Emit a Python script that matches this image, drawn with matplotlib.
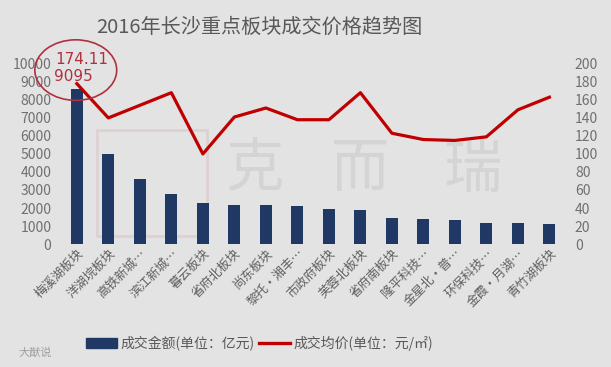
import numpy as np
import matplotlib.pyplot as plt
from matplotlib.patches import Ellipse, Rectangle
from matplotlib.lines import Line2D
from matplotlib.patches import Patch

plt.rcParams['font.family'] = ['Noto Sans CJK SC', 'DejaVu Sans']

areas = ['梅溪湖板块', '洋湖垸板块', '高铁新城…', '滨江新城…', '暮云板块', '省府北板块',
         '尚东板块', '黎托·湘丰…', '市政府板块', '芙蓉北板块', '省府南板块', '隆平科技…',
         '金星北·普…', '环保科技…', '金霞·月湖…', '青竹湖板块']
amount = [8600, 5000, 3600, 2800, 2260, 2170, 2170, 2110, 1960, 1870,
          1460, 1390, 1315, 1190, 1185, 1110]
price = [178, 140, 154, 168, 100, 141, 151, 138, 138, 168,
         123, 116, 115, 119, 149, 163]

bar_color = '#1f3864'
line_color = '#c00000'
gray = '#707070'
bg = '#e3e3e3'

fig = plt.figure(figsize=(6.11, 3.67), dpi=100, facecolor=bg)

# faint watermark behind the plot
fig.patches.append(Rectangle((97 / 611, 1 - 236 / 367), 110 / 611, 106 / 367,
                             transform=fig.transFigure, fill=False,
                             edgecolor='#ddd2d2', lw=2, zorder=-2))
for cx, ch in zip([255, 360, 473], ['克', '而', '瑞']):
    fig.text(cx / 611, 1 - 170 / 367, ch, fontsize=42, color='#d4d4d4',
             ha='center', va='center', zorder=-2)

ax = fig.add_axes([0.1, 0.335, 0.825, 0.491])
ax.patch.set_visible(False)
x = np.arange(len(areas))
ax.bar(x, amount, width=0.38, color=bar_color, zorder=2)
ax.set_ylim(0, 10000)
ax.set_xlim(-0.5, len(areas) - 0.5)
ax.set_yticks(range(0, 10001, 1000))
ax.tick_params(axis='y', colors=gray, labelsize=10, length=0, pad=7)
ax.tick_params(axis='x', length=0, pad=2)
ax.set_xticks(x)
ax.set_xticklabels(areas, rotation=45, ha='right', va='top', rotation_mode='anchor',
                   fontsize=9, color='#606060')
for s in ax.spines.values():
    s.set_visible(False)

ax2 = ax.twinx()
ax2.plot(x, price, color=line_color, lw=2.3, zorder=3)
ax2.set_ylim(0, 200)
ax2.set_yticks(range(0, 201, 20))
ax2.tick_params(axis='y', colors=gray, labelsize=10, length=0, pad=7)
for s in ax2.spines.values():
    s.set_visible(False)

fig.text(0.425, 0.926, '2016年长沙重点板块成交价格趋势图', fontsize=14.5, color='#595959',
         ha='center', va='center')

# highlighted annotation
fig.text(0.09, 0.838, '174.11', fontsize=11, color='#b03040', ha='left', va='center',
         family='DejaVu Sans')
fig.text(0.088, 0.792, '9095', fontsize=11, color='#b03040', ha='left', va='center',
         family='DejaVu Sans')
fig.patches.append(Ellipse((0.124, 0.809), 0.134, 0.165, transform=fig.transFigure,
                           fill=False, edgecolor='#b03040', lw=1.2))

handles = [Patch(color=bar_color), Line2D([], [], color=line_color, lw=2.4)]
fig.legend(handles, ['成交金额(单位：亿元)', '成交均价(单位：元/㎡)'], loc='center',
           bbox_to_anchor=(0.425, 0.065), ncol=2, frameon=False, fontsize=10,
           labelcolor='#595959', handlelength=2.2, columnspacing=0.3, handletextpad=0.3)
fig.text(0.03, 0.03, '大猷说', fontsize=8, color='#a0a0a0')

fig.savefig('out.png', dpi=100, facecolor=bg)
